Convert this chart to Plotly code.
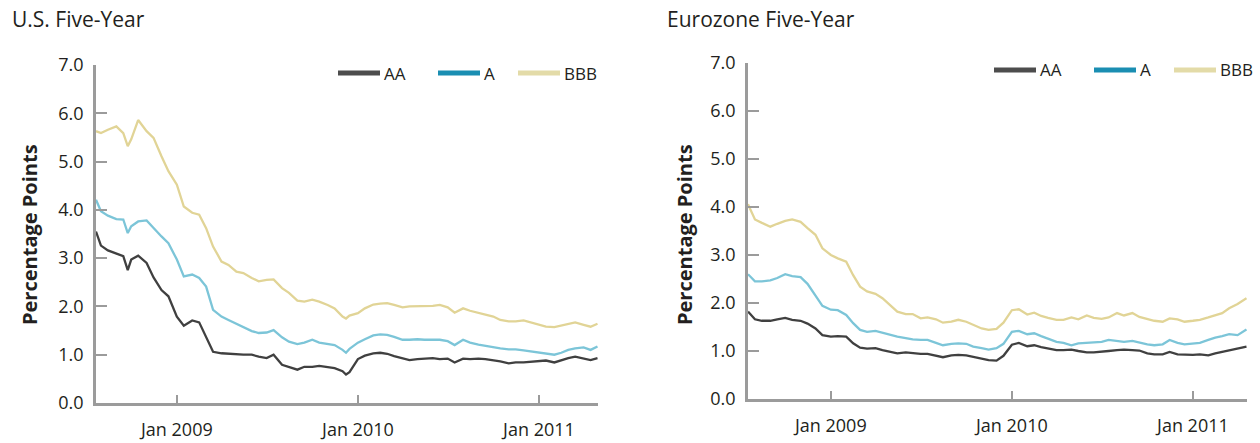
import plotly.graph_objects as go

# ---------------- data ----------------
US_DATES = ["2008-07-22","2008-08-01","2008-08-15","2008-09-01","2008-09-15","2008-09-24","2008-10-01","2008-10-15",
            "2008-11-01","2008-11-15","2008-12-01","2008-12-15",
            "2009-01-01","2009-01-15","2009-02-01","2009-02-15","2009-03-01","2009-03-15","2009-04-01","2009-04-15",
            "2009-05-01","2009-05-15","2009-06-01","2009-06-15","2009-07-01","2009-07-15","2009-08-01","2009-08-15",
            "2009-09-01","2009-09-15","2009-10-01","2009-10-15","2009-11-01","2009-11-15","2009-12-01","2009-12-08","2009-12-15",
            "2010-01-01","2010-01-15","2010-02-01","2010-02-15","2010-03-01","2010-03-15","2010-04-01","2010-04-15",
            "2010-05-01","2010-05-15","2010-06-01","2010-06-15","2010-07-01","2010-07-15","2010-08-01","2010-08-15",
            "2010-09-01","2010-09-15","2010-10-01","2010-10-15","2010-11-01","2010-11-15","2010-12-01","2010-12-15",
            "2011-01-01","2011-01-15","2011-02-01","2011-02-15","2011-03-01","2011-03-15","2011-04-01","2011-04-15","2011-04-29"]

US_AA = [3.55,3.26,3.16,3.10,3.04,2.75,2.97,3.05,2.90,2.60,2.34,2.21,
         1.79,1.60,1.71,1.67,1.36,1.06,1.03,1.02,1.00,1.00,1.00,0.96,0.93,1.00,0.79,0.75,
         0.69,0.75,0.75,0.77,0.74,0.72,0.66,0.59,0.64,
         0.91,0.98,1.03,1.04,1.02,0.97,0.92,0.89,0.91,0.92,0.93,0.91,0.92,0.84,0.92,0.91,
         0.92,0.91,0.89,0.86,0.82,0.84,0.84,0.85,
         0.86,0.88,0.84,0.89,0.93,0.96,0.92,0.89,0.93]
US_A = [4.21,3.97,3.88,3.81,3.80,3.52,3.66,3.76,3.78,3.62,3.45,3.31,
        2.97,2.62,2.66,2.59,2.41,1.93,1.79,1.72,1.64,1.58,1.49,1.45,1.46,1.51,1.36,1.27,
        1.22,1.25,1.31,1.25,1.22,1.20,1.10,1.04,1.12,
        1.25,1.32,1.40,1.42,1.41,1.37,1.31,1.31,1.32,1.31,1.31,1.31,1.28,1.20,1.31,1.25,
        1.21,1.18,1.16,1.13,1.11,1.11,1.09,1.07,
        1.04,1.02,1.00,1.04,1.10,1.13,1.15,1.10,1.17]
US_BBB = [5.63,5.59,5.66,5.73,5.59,5.32,5.46,5.86,5.63,5.49,5.11,4.80,
          4.52,4.07,3.94,3.90,3.62,3.24,2.93,2.86,2.72,2.69,2.59,2.52,2.55,2.56,2.38,2.28,
          2.12,2.10,2.14,2.10,2.03,1.96,1.79,1.75,1.81,
          1.86,1.96,2.04,2.06,2.07,2.03,1.98,2.00,2.00,2.01,2.01,2.03,1.98,1.87,1.96,1.91,
          1.86,1.83,1.79,1.72,1.69,1.69,1.71,1.67,
          1.62,1.58,1.57,1.60,1.64,1.67,1.62,1.58,1.64]

EZ_DATES = ["2008-07-18","2008-08-01","2008-08-15","2008-09-01","2008-09-15","2008-10-01","2008-10-15",
            "2008-11-01","2008-11-15","2008-12-01","2008-12-15",
            "2009-01-01","2009-01-15","2009-02-01","2009-02-15","2009-03-01","2009-03-15","2009-04-01","2009-04-15",
            "2009-05-01","2009-05-15","2009-06-01","2009-06-15","2009-07-01","2009-07-15","2009-08-01","2009-08-15",
            "2009-09-01","2009-09-15","2009-10-01","2009-10-15","2009-11-01","2009-11-15","2009-12-01","2009-12-15",
            "2010-01-01","2010-01-15","2010-02-01","2010-02-15","2010-03-01","2010-03-15","2010-04-01","2010-04-15",
            "2010-05-01","2010-05-15","2010-06-01","2010-06-15","2010-07-01","2010-07-15","2010-08-01","2010-08-15",
            "2010-09-01","2010-09-15","2010-10-01","2010-10-15","2010-11-01","2010-11-15","2010-12-01","2010-12-15",
            "2011-01-01","2011-01-15","2011-02-01","2011-02-15","2011-03-01","2011-03-15","2011-04-01","2011-04-19"]

EZ_AA = [1.82,1.66,1.63,1.63,1.66,1.69,1.65,1.63,1.57,1.47,1.33,
         1.30,1.31,1.30,1.16,1.07,1.05,1.06,1.02,0.98,0.95,0.97,0.95,0.94,0.94,0.90,0.87,
         0.91,0.92,0.91,0.88,0.85,0.81,0.80,0.90,
         1.13,1.17,1.10,1.12,1.08,1.05,1.02,1.02,1.03,1.00,0.97,0.97,0.98,1.00,1.02,1.03,
         1.02,1.01,0.95,0.93,0.93,0.98,0.93,0.92,
         0.92,0.93,0.91,0.95,0.98,1.02,1.06,1.09]
EZ_A = [2.60,2.45,2.45,2.47,2.52,2.60,2.56,2.54,2.40,2.15,1.94,
        1.86,1.85,1.75,1.58,1.44,1.40,1.42,1.38,1.33,1.30,1.27,1.24,1.23,1.23,1.17,1.12,
        1.15,1.16,1.15,1.09,1.06,1.03,1.06,1.15,
        1.40,1.42,1.35,1.37,1.31,1.26,1.19,1.17,1.12,1.16,1.17,1.19,1.19,1.23,1.21,1.19,
        1.21,1.17,1.14,1.12,1.14,1.23,1.17,1.14,
        1.16,1.17,1.23,1.28,1.31,1.35,1.33,1.45]
EZ_BBB = [4.06,3.74,3.67,3.59,3.65,3.71,3.74,3.69,3.56,3.42,3.14,
          3.00,2.93,2.86,2.58,2.34,2.24,2.19,2.10,1.94,1.82,1.77,1.77,1.68,1.70,1.66,1.59,
          1.61,1.65,1.61,1.54,1.47,1.44,1.46,1.59,
          1.85,1.87,1.76,1.80,1.73,1.69,1.65,1.65,1.70,1.66,1.74,1.69,1.67,1.70,1.79,1.74,
          1.79,1.71,1.66,1.63,1.61,1.68,1.66,1.61,
          1.63,1.65,1.70,1.75,1.79,1.89,1.98,2.10]

SERIES_NAMES = ["AA", "A", "BBB"]
X_TICK_VALS = ["2009-01-01", "2010-01-01", "2011-01-01"]
X_TICK_TEXT = ["Jan 2009", "Jan 2010", "Jan 2011"]
Y_TICK_VALS = [0, 1, 2, 3, 4, 5, 6, 7]
Y_TICK_TEXT = ["0.0", "1.0", "2.0", "3.0", "4.0", "5.0", "6.0", "7.0"]
TITLES = ["U.S. Five-Year", "Eurozone Five-Year"]
Y_TITLE = "Percentage Points"

# ---------------- styles ----------------
LINE_COLORS = ["#404040", "#7cc5d8", "#e1d496"]
LEGEND_COLORS = ["#4d4d4d", "#1a8eb2", "#e3dba8"]
AXIS_COLOR = "#9b9b9b"
TEXT_COLOR = "#231f20"
FONT = "Open Sans"
W, H = 1260, 443

def px(x):
    return x / W

def py(y):
    return (H - y) / H

fig = go.Figure()

us = [US_AA, US_A, US_BBB]
ez = [EZ_AA, EZ_A, EZ_BBB]
for i, name in enumerate(SERIES_NAMES):
    fig.add_trace(go.Scatter(x=US_DATES, y=us[i], mode="lines", name=name,
                             line=dict(color=LINE_COLORS[i], width=2.3),
                             xaxis="x", yaxis="y", showlegend=False))
    fig.add_trace(go.Scatter(x=EZ_DATES, y=ez[i], mode="lines", name=name,
                             line=dict(color=LINE_COLORS[i], width=2.3),
                             xaxis="x2", yaxis="y2", showlegend=False))

def xaxis(domain, rng):
    return dict(domain=domain, type="date", range=rng, showgrid=False, zeroline=False,
                showline=True, linecolor=AXIS_COLOR, linewidth=2.5, automargin=False,
                ticks="inside", ticklen=8, tickwidth=2, tickcolor=AXIS_COLOR,
                tickvals=X_TICK_VALS, ticktext=X_TICK_TEXT, ticklabelstandoff=9,
                tickfont=dict(family=FONT, size=18, color=TEXT_COLOR), fixedrange=True)

def yaxis(domain, anchor):
    return dict(domain=domain, anchor=anchor, range=[0, 7], showgrid=False, zeroline=False,
                showline=True, linecolor=AXIS_COLOR, linewidth=2.5, automargin=False,
                ticks="inside", ticklen=11, tickwidth=2, tickcolor=AXIS_COLOR,
                tickvals=Y_TICK_VALS, ticktext=Y_TICK_TEXT, ticklabelstandoff=6,
                tickfont=dict(family=FONT, size=18, color=TEXT_COLOR), fixedrange=True)

fig.update_layout(
    width=W, height=H, autosize=False, margin=dict(l=0, r=0, t=0, b=0, pad=0),
    paper_bgcolor="white", plot_bgcolor="white", showlegend=False,
    xaxis=dict(xaxis([px(96), px(598)], ["2008-07-22", "2011-04-30"]), anchor="y"),
    yaxis=yaxis([py(403), py(65)], "x"),
    xaxis2=dict(xaxis([px(748), px(1247)], ["2008-07-18", "2011-04-20"]), anchor="y2"),
    yaxis2=yaxis([py(399), py(63)], "x2"),
)

annotations = []
shapes = []
# panel titles
for tx, title in zip([10, 665], TITLES):
    annotations.append(dict(x=px(tx), y=py(19), xref="paper", yref="paper", text=title,
                            showarrow=False, xanchor="left", yanchor="middle",
                            font=dict(family=FONT, size=21, color=TEXT_COLOR)))
# y axis titles
for tx in [29, 684]:
    annotations.append(dict(x=px(tx), y=py(235), xref="paper", yref="paper",
                            text="<b>" + Y_TITLE + "</b>", textangle=-90, showarrow=False,
                            xanchor="center", yanchor="middle",
                            font=dict(family=FONT, size=20, color=TEXT_COLOR)))
# legends (one per panel)
legend_specs = [([338, 438, 518], 73), ([994, 1094, 1174], 70)]
for starts, ly in legend_specs:
    for i, name in enumerate(SERIES_NAMES):
        x0 = starts[i]
        shapes.append(dict(type="line", xref="paper", yref="paper",
                           x0=px(x0), x1=px(x0 + 42), y0=py(ly), y1=py(ly),
                           line=dict(color=LEGEND_COLORS[i], width=5)))
        annotations.append(dict(x=px(x0 + 44), y=py(ly), xref="paper", yref="paper", text=name,
                                showarrow=False, xanchor="left", yanchor="middle",
                                font=dict(family=FONT, size=17, color=TEXT_COLOR)))

fig.update_layout(annotations=annotations, shapes=shapes)
fig.write_html(
    "out.html",
    config={"responsive": False, "displayModeBar": False},
    post_script="document.documentElement.style.margin='0';document.body.style.margin='0';"
                "document.body.style.padding='0';document.body.style.overflow='hidden';",
)
